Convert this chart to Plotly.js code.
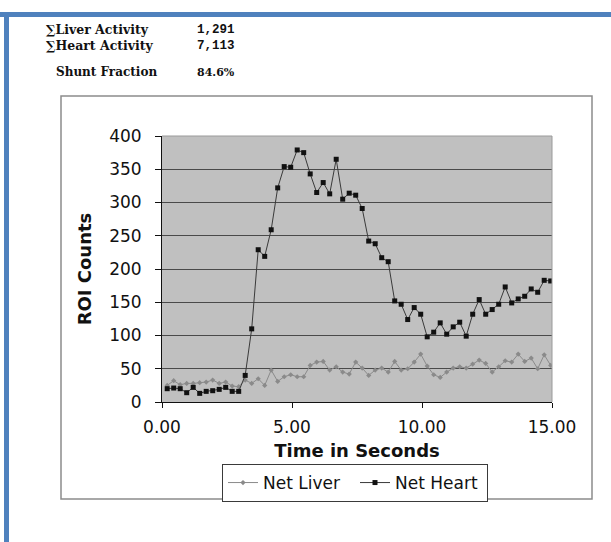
<!DOCTYPE html>
<html>
<head>
<meta charset="utf-8">
<script src="https://cdn.plot.ly/plotly-3.0.1.min.js"></script>
<style>
  html, body { margin: 0; padding: 0; background: #ffffff; }
  #chart { width: 611px; height: 542px; }
</style>
</head>
<body>
<div id="chart"></div>
<script>
// ---- data ----
const timeSec = [0.20, 0.45, 0.70, 0.95, 1.20, 1.45, 1.70, 1.95, 2.20, 2.45,
                 2.70, 2.95, 3.20, 3.45, 3.70, 3.95, 4.20, 4.45, 4.70, 4.95,
                 5.20, 5.45, 5.70, 5.95, 6.20, 6.45, 6.70, 6.95, 7.20, 7.45,
                 7.70, 7.95, 8.20, 8.45, 8.70, 8.95, 9.20, 9.45, 9.70, 9.95,
                 10.20, 10.45, 10.70, 10.95, 11.20, 11.45, 11.70, 11.95, 12.20, 12.45,
                 12.70, 12.95, 13.20, 13.45, 13.70, 13.95, 14.20, 14.45, 14.70, 14.95];
const netLiver = [25, 32, 26, 28, 28, 29, 30, 33, 28, 30,
                  24, 23, 33, 28, 35, 25, 48, 31, 38, 41,
                  38, 38, 55, 60, 61, 48, 53, 45, 42, 60,
                  51, 40, 48, 51, 45, 61, 48, 50, 60, 72,
                  54, 41, 37, 45, 51, 53, 51, 57, 63, 58,
                  45, 53, 62, 60, 72, 61, 66, 50, 71, 55];
const netHeart = [20, 21, 20, 14, 22, 13, 16, 17, 19, 22,
                  16, 16, 40, 110, 229, 219, 259, 322, 354, 353,
                  379, 375, 343, 315, 330, 313, 365, 305, 314, 311,
                  291, 242, 238, 217, 211, 152, 147, 124, 142, 132,
                  98, 105, 119, 102, 113, 120, 99, 132, 154, 132,
                  139, 147, 173, 149, 155, 159, 170, 165, 183, 182];
const xTickVals = [0, 5, 10, 15];
const xTickText = ["0.00", "5.00", "10.00", "15.00"];
const seriesNames = ["Net Liver", "Net Heart"];
const summaryLabels = ["\u2211Liver Activity", "\u2211Heart Activity", "Shunt Fraction"];
const summaryValues = ["1,291", "7,113", "84.6%"];

// ---- layout geometry (pixels) ----
const W = 611, H = 542;
const L = 162, R = 552, T = 136, B = 402;
const px = v => (v - L) / (R - L);
const py = v => (B - v) / (B - T);

const traces = [
  {
    x: timeSec, y: netLiver, name: seriesNames[0], type: "scatter", mode: "lines+markers",
    line: { color: "#8a8a8a", width: 1 },
    marker: { symbol: "diamond", size: 4, color: "#8a8a8a" }
  },
  {
    x: timeSec, y: netHeart, name: seriesNames[1], type: "scatter", mode: "lines+markers",
    line: { color: "#3a3a3a", width: 1 },
    marker: { symbol: "square", size: 5, color: "#111111" }
  }
];

const serifB = { family: "DejaVu Serif", size: 12.5, color: "#111111", weight: "bold" };
const monoB = { family: "Liberation Mono", size: 12.5, color: "#111111", weight: "bold" };

const annotations = [
  { text: "<b>" + summaryLabels[0] + "<br>" + summaryLabels[1] + "</b>",
    x: px(45), y: py(38), xanchor: "left", yanchor: "middle", align: "left", font: serifB },
  { text: "<b>" + summaryValues[0] + "<br>" + summaryValues[1] + "</b>",
    x: px(196), y: py(38), xanchor: "left", yanchor: "middle", align: "left", font: monoB },
  { text: "<b>" + summaryLabels[2] + "</b>",
    x: px(55), y: py(72), xanchor: "left", yanchor: "middle",
    font: { family: "DejaVu Serif", size: 12, color: "#111111", weight: "bold" } },
  { text: "<b>" + summaryValues[2] + "</b>",
    x: px(196), y: py(72), xanchor: "left", yanchor: "middle",
    font: { family: "DejaVu Serif", size: 11, color: "#111111", weight: "bold" } }
].map(a => Object.assign({ xref: "paper", yref: "paper", showarrow: false, borderpad: 0 }, a));

const shapes = [
  // blue page frame
  { type: "rect", xref: "paper", yref: "paper", x0: px(0), x1: px(W), y0: py(12), y1: py(17),
    fillcolor: "#4f81bd", line: { width: 0 }, layer: "above" },
  { type: "rect", xref: "paper", yref: "paper", x0: px(4), x1: px(9), y0: py(12), y1: py(H),
    fillcolor: "#4f81bd", line: { width: 0 }, layer: "above" },
  // chart area frame
  { type: "rect", xref: "paper", yref: "paper", x0: px(61), x1: px(592), y0: py(96), y1: py(499),
    fillcolor: "rgba(0,0,0,0)", line: { color: "#8c8c8c", width: 1.5 }, layer: "above" },
  // plot-area border (top & right, grey)
  { type: "line", xref: "paper", yref: "paper", x0: 0, x1: 1, y0: 1, y1: 1,
    line: { color: "#9a9a9a", width: 1 }, layer: "above" },
  { type: "line", xref: "paper", yref: "paper", x0: 1, x1: 1, y0: 0, y1: 1,
    line: { color: "#9a9a9a", width: 1 }, layer: "above" }
];

const tickFont = { family: "DejaVu Sans", size: 17, color: "#111111" };
const titleFont = { family: "DejaVu Sans", size: 18, color: "#111111", weight: "bold" };

const layout = {
  width: W, height: H,
  margin: { l: L, r: W - R, t: T, b: H - B, pad: 0 },
  paper_bgcolor: "#ffffff",
  plot_bgcolor: "#c0c0c0",
  showlegend: true,
  legend: {
    orientation: "h", x: px(355), xanchor: "center", y: py(483), yanchor: "middle",
    bgcolor: "#ffffff", bordercolor: "#3a3a3a", borderwidth: 1,
    font: { family: "DejaVu Sans", size: 17, color: "#111111" },
    itemwidth: 30, tracegroupgap: 0, entrywidth: 87
  },
  xaxis: {
    range: [0, 15], tickvals: xTickVals, ticktext: xTickText,
    showgrid: false, zeroline: false,
    showline: true, linecolor: "#111111", linewidth: 1,
    ticks: "outside", ticklen: 5, tickcolor: "#111111",
    tickfont: tickFont, ticklabelstandoff: 5,
    title: { text: "<b>Time in Seconds</b>", font: titleFont, standoff: 7 }
  },
  yaxis: {
    range: [0, 400], dtick: 50, tick0: 0,
    showgrid: true, gridcolor: "#4a4a4a", gridwidth: 1,
    zeroline: false,
    showline: true, linecolor: "#111111", linewidth: 1,
    ticks: "outside", ticklen: 6, tickcolor: "#111111",
    tickfont: tickFont, ticklabelstandoff: 10,
    title: { text: "<b>ROI Counts</b>", font: titleFont, standoff: 12 }
  },
  annotations: annotations,
  shapes: shapes
};

Plotly.newPlot("chart", traces, layout, { displayModeBar: false, staticPlot: true });
</script>
</body>
</html>
